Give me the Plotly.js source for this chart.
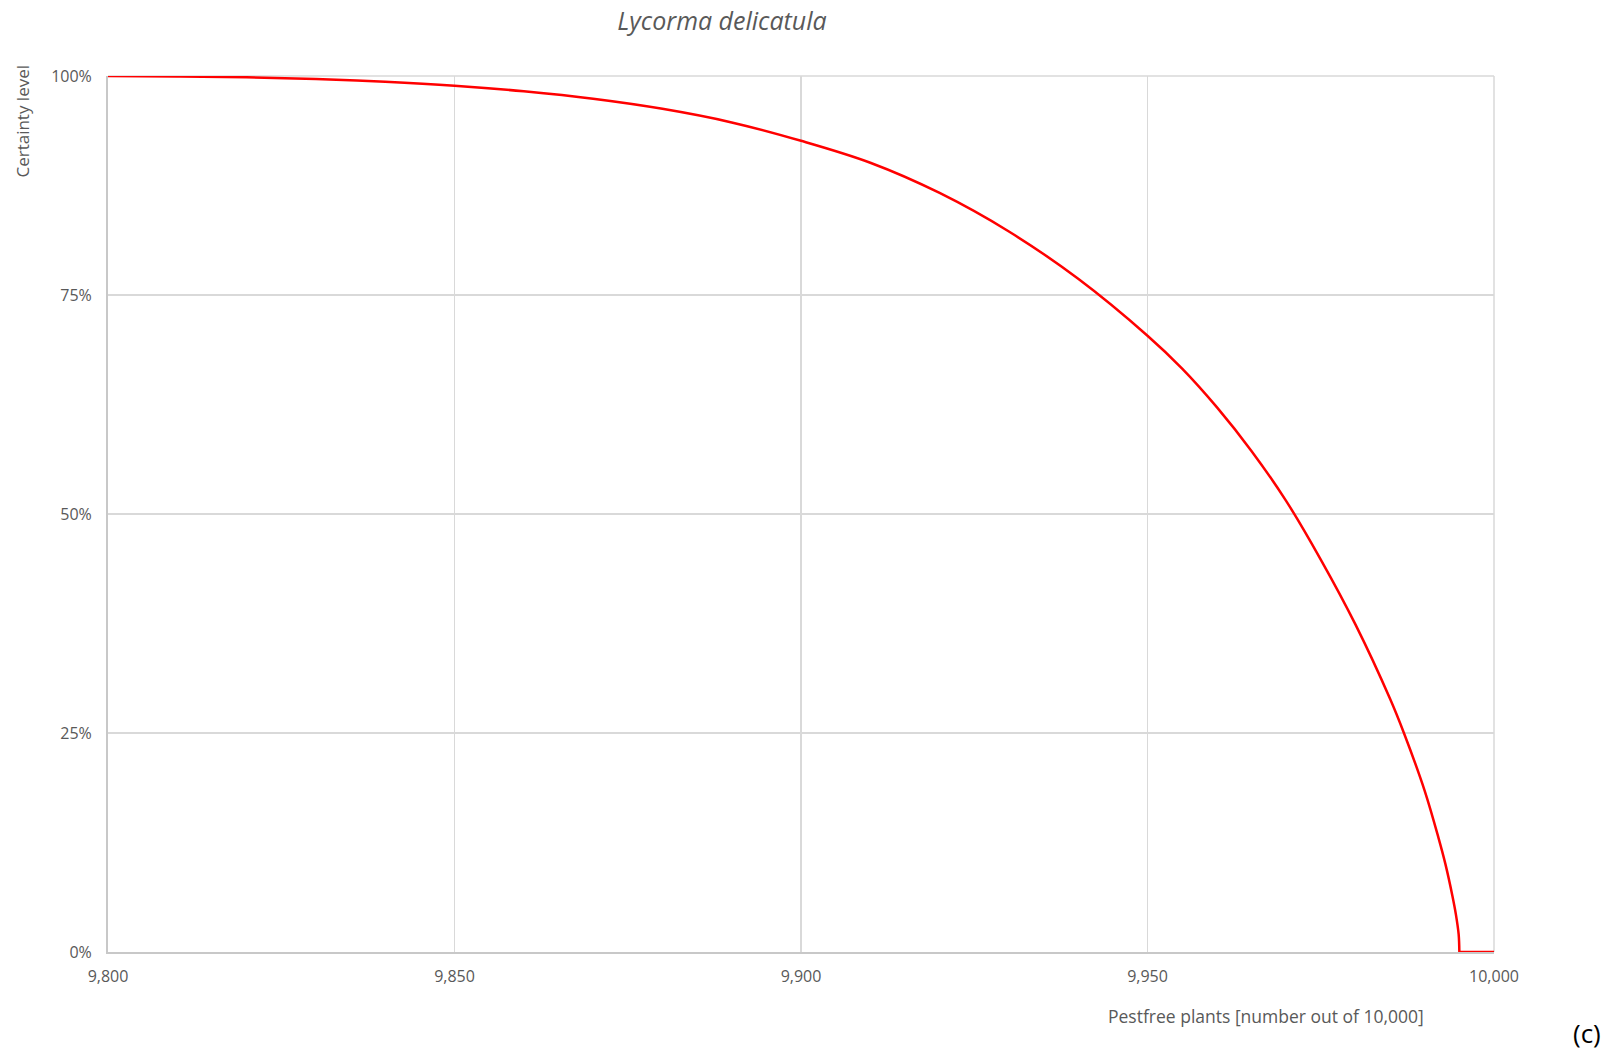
<!DOCTYPE html>
<html>
<head>
<meta charset="utf-8">
<script src="https://cdn.plot.ly/plotly-3.0.1.min.js"></script>
<style>
  html, body { margin: 0; padding: 0; background: #ffffff; }
  #chart { width: 1612px; height: 1052px; }
</style>
</head>
<body>
<div id="chart"></div>
<script>
// Pest-free plants (number out of 10,000)
const pestfreePlants = [9800, 9810, 9820, 9830, 9840, 9850, 9860, 9870, 9880, 9890,
  9900, 9910, 9920, 9930, 9940, 9950, 9955, 9960, 9965, 9970,
  9975, 9980, 9985, 9987, 9990, 9992, 9993, 9994, 9994.5, 9994.9, 9995];
// Certainty level (fraction)
const certaintyLevel = [1.000, 0.9995, 0.9985, 0.9965, 0.9935, 0.989, 0.9825, 0.974, 0.9625, 0.947,
  0.926, 0.901, 0.8665, 0.8225, 0.7685, 0.7035, 0.666, 0.622, 0.572, 0.515,
  0.448, 0.374, 0.289, 0.250, 0.184, 0.130, 0.100, 0.064, 0.043, 0.020, 0.000];
// Flat tail at zero
const tailPlants = [9995, 10000];
const tailCertainty = [0, 0];

const xTickVals = [9800, 9850, 9900, 9950, 10000];
const yTickVals = [0, 0.25, 0.5, 0.75, 1];

const chartTitle = "Lycorma delicatula";
const xTitle = "Pestfree plants [number out of 10,000]";
const yTitle = "Certainty level";
const panelLabel = "(c)";

const font = "'Open Sans', 'Liberation Sans', sans-serif";
const grey = "#595959";
const gridColor = "#d9d9d9";

const curve = {
  x: pestfreePlants,
  y: certaintyLevel,
  type: "scatter",
  mode: "lines",
  line: { color: "#ff0000", width: 2.5, shape: "spline", smoothing: 1 },
  hoverinfo: "skip",
  showlegend: false
};
const tail = {
  x: tailPlants,
  y: tailCertainty,
  type: "scatter",
  mode: "lines",
  line: { color: "#ff0000", width: 2.5 },
  hoverinfo: "skip",
  showlegend: false
};

const layout = {
  width: 1612,
  height: 1052,
  margin: { l: 108, r: 118, t: 76, b: 100, pad: 0 },
  paper_bgcolor: "#ffffff",
  plot_bgcolor: "#ffffff",
  font: { family: font, size: 16, color: grey },
  showlegend: false,
  title: {
    text: "<i>" + chartTitle + "</i>",
    font: { family: font, size: 25, color: grey },
    xref: "paper", x: 0.443, xanchor: "center",
    yref: "container", y: 0.98, yanchor: "middle"
  },
  xaxis: {
    range: [9800, 10000],
    tickvals: xTickVals,
    tickformat: ",d",
    showgrid: true,
    gridcolor: gridColor,
    gridwidth: 1.5,
    showline: true,
    linecolor: "#c8c8c8",
    linewidth: 2,
    zeroline: false,
    ticks: "",
    ticklabelstandoff: 9,
    tickfont: { family: font, size: 16, color: grey },
    fixedrange: true
  },
  yaxis: {
    range: [0, 1],
    tickvals: yTickVals,
    tickformat: ".0%",
    showgrid: true,
    gridcolor: gridColor,
    gridwidth: 1.5,
    showline: true,
    linecolor: "#c8c8c8",
    linewidth: 2,
    zeroline: false,
    ticks: "",
    ticklabelstandoff: 11,
    tickfont: { family: font, size: 16, color: grey },
    fixedrange: true
  },
  shapes: [
    { type: "line", xref: "paper", yref: "paper", x0: 1, x1: 1, y0: 0, y1: 1,
      line: { color: gridColor, width: 1.5 }, layer: "below" },
    { type: "line", xref: "paper", yref: "paper", x0: 0, x1: 1, y0: 1, y1: 1,
      line: { color: gridColor, width: 1.5 }, layer: "below" }
  ],
  annotations: [
    {
      text: yTitle, textangle: -90,
      xref: "paper", yref: "paper",
      x: (23 - 108) / 1386, y: (951.5 - 122) / 875,
      xanchor: "center", yanchor: "middle", showarrow: false,
      font: { family: font, size: 17, color: grey }
    },
    {
      text: xTitle,
      xref: "paper", yref: "paper",
      x: (1266 - 108) / 1386, y: (951.5 - 1015) / 875,
      xanchor: "center", yanchor: "middle", showarrow: false,
      font: { family: font, size: 17.5, color: grey }
    },
    {
      text: panelLabel,
      xref: "paper", yref: "paper",
      x: (1587 - 108) / 1386, y: (951.5 - 1032) / 875,
      xanchor: "center", yanchor: "middle", showarrow: false,
      font: { family: font, size: 26, color: "#000000" }
    }
  ]
};

Plotly.newPlot("chart", [curve, tail], layout, { staticPlot: true, displayModeBar: false });
</script>
</body>
</html>
